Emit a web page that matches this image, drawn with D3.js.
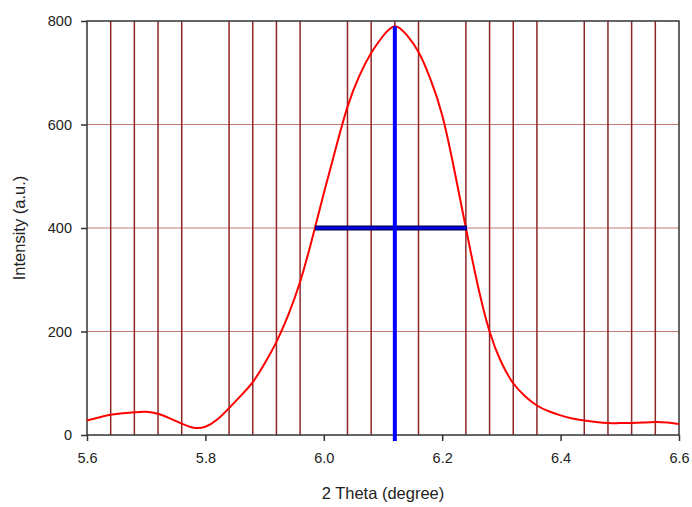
<!DOCTYPE html>
<html>
<head>
<meta charset="utf-8">
<script src="https://cdn.jsdelivr.net/npm/d3@7"></script>
<style>
  body { margin: 0; background: #fff; }
  text { font-family: "Liberation Sans", Arial, sans-serif; fill: #222; }
</style>
</head>
<body>
<div id="chart"></div>
<script>
// curve samples (2 theta, intensity)
var theta = [5.60, 5.62, 5.64, 5.66, 5.68, 5.70, 5.72, 5.74, 5.76, 5.78, 5.80,
             5.82, 5.84, 5.86, 5.88, 5.90, 5.92, 5.94, 5.96, 5.98, 6.00,
             6.02, 6.04, 6.06, 6.08, 6.10, 6.12, 6.14, 6.16, 6.18, 6.20,
             6.22, 6.24, 6.26, 6.28, 6.30, 6.32, 6.34, 6.36, 6.38, 6.40,
             6.42, 6.44, 6.46, 6.48, 6.50, 6.52, 6.54, 6.56, 6.58, 6.60];
var intensity = [28, 34, 39, 42, 44, 45, 41, 32, 22, 14, 16,
                 30, 52, 76, 102, 138, 180, 232, 296, 378, 467,
                 553, 634, 694, 738, 771, 790, 773, 740, 688, 618,
                 515, 400, 290, 200, 140, 100, 75, 57, 46, 38,
                 32, 28, 25, 23, 23, 23, 24, 25, 24, 21];
var xTicks = [5.6, 5.8, 6.0, 6.2, 6.4, 6.6];
var yTicks = [0, 200, 400, 600, 800];
var peakX = 6.12, peakY = 790;
var halfLeft = 5.985, halfRight = 6.242, halfY = 400;

var margin = {top: 21, right: 13, bottom: 72, left: 87};
var W = 692, H = 507;
var width = W - margin.left - margin.right;
var height = H - margin.top - margin.bottom;

var svg = d3.select("#chart").append("svg")
    .attr("width", W)
    .attr("height", H)
  .append("g")
    .attr("transform", "translate(" + margin.left + "," + margin.top + ")");

var x = d3.scaleLinear().domain([5.6, 6.6]).range([0, width]);
var y = d3.scaleLinear().domain([0, 800]).range([height, 0]);

// minor vertical grid every 0.04, skipping major ticks
var minor = [];
for (var k = 1; k < 25; k++) {
    if (k % 5 != 0) minor.push(5.6 + k * 0.04);
}
svg.selectAll("line.vgrid").data(minor).enter().append("line")
    .attr("class", "vgrid")
    .attr("x1", function(d) { return x(d); })
    .attr("x2", function(d) { return x(d); })
    .attr("y1", 0).attr("y2", height)
    .attr("stroke", "#7a0000").attr("stroke-opacity", 0.85)
    .attr("stroke-width", 1.5);

svg.selectAll("line.hgrid").data(yTicks.slice(1, -1)).enter().append("line")
    .attr("class", "hgrid")
    .attr("x1", 0).attr("x2", width)
    .attr("y1", function(d) { return y(d); })
    .attr("y2", function(d) { return y(d); })
    .attr("stroke", "#9a2020").attr("stroke-opacity", 0.6)
    .attr("stroke-width", 1);

// frame
svg.append("rect")
    .attr("width", width).attr("height", height)
    .attr("fill", "none").attr("stroke", "#333").attr("stroke-width", 1.5);

// axes
var xAxis = svg.append("g")
    .attr("transform", "translate(0," + height + ")")
    .call(d3.axisBottom(x).tickValues(xTicks).tickFormat(d3.format(".1f"))
        .tickSize(6).tickPadding(12));
var yAxis = svg.append("g")
    .call(d3.axisLeft(y).tickValues(yTicks).tickSize(6).tickPadding(9));
[xAxis, yAxis].forEach(function(a) {
    a.select(".domain").remove();
    a.selectAll(".tick line").attr("stroke", "#333").attr("stroke-width", 1.5);
    a.selectAll(".tick text").style("font-size", "14.5px").style("fill", "#222");
});

// data curve
var pts = theta.map(function(t, i) { return [t, intensity[i]]; });
svg.append("path")
    .datum(pts)
    .attr("fill", "none")
    .attr("stroke", "#ff0000")
    .attr("stroke-width", 2)
    .attr("d", d3.line()
        .x(function(d) { return x(d[0]); })
        .y(function(d) { return y(d[1]); })
        .curve(d3.curveNatural));

// FWHM markers
svg.append("line")
    .attr("x1", x(halfLeft)).attr("x2", x(halfRight))
    .attr("y1", y(halfY)).attr("y2", y(halfY))
    .attr("stroke", "#000040").attr("stroke-width", 5);
svg.append("line")
    .attr("x1", x(halfLeft) + 0.5).attr("x2", x(halfRight) - 0.5)
    .attr("y1", y(halfY)).attr("y2", y(halfY))
    .attr("stroke", "#0000e0").attr("stroke-width", 3);
svg.append("line")
    .attr("x1", x(peakX)).attr("x2", x(peakX))
    .attr("y1", y(peakY)).attr("y2", height + 6)
    .attr("stroke", "#0000ff").attr("stroke-width", 4);

// titles
svg.append("text")
    .attr("x", width / 2 + 0)
    .attr("y", height + 64)
    .attr("text-anchor", "middle")
    .style("font-size", "16.5px")
    .text("2 Theta (degree)");
svg.append("text")
    .attr("transform", "translate(" + (-62) + "," + (height / 2) + ") rotate(-90)")
    .attr("text-anchor", "middle")
    .style("font-size", "16.5px")
    .text("Intensity (a.u.)");
</script>
</body>
</html>
